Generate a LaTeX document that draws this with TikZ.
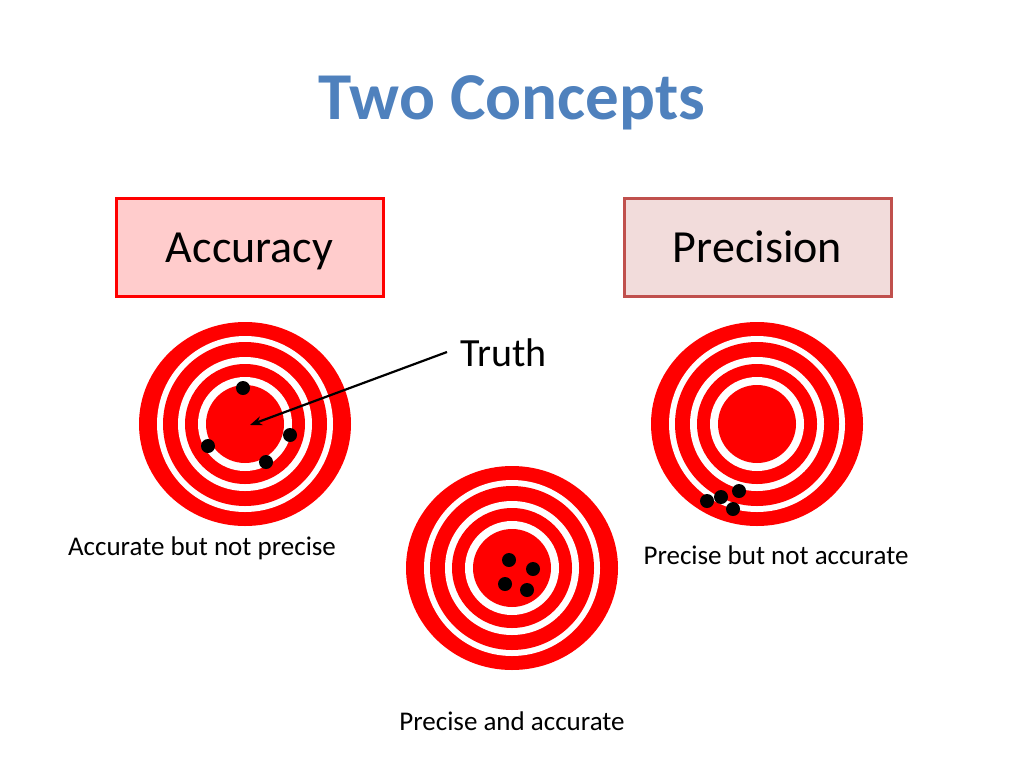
\documentclass[tikz,border=0pt]{standalone}
\usepackage{fontspec}
\usetikzlibrary{arrows.meta}
\setmainfont{Carlito}
\begin{document}
\begin{tikzpicture}[x=1pt,y=-1pt,
  dot/.style={circle,fill=black,inner sep=0pt,minimum size=14pt},
  lbl/.style={font=\fontsize{27}{30}\selectfont,inner sep=0pt},
  boxa/.style={draw=red,line width=3pt,fill=red!20,minimum width=267pt,minimum height=98pt},
  boxb/.style={draw={rgb,255:red,192;green,80;blue,77},line width=3pt,fill={rgb,255:red,242;green,220;blue,219},minimum width=267pt,minimum height=98pt},
  btxt/.style={anchor=base,inner sep=0pt,font=\fontsize{46}{50}\selectfont}]
\useasboundingbox (0,0) rectangle (1024,768);
\definecolor{tred}{RGB}{255,0,0}
\newcommand{\target}[2]{%
  \fill[tred] (#1,#2) ellipse [x radius=106, y radius=102];
  \fill[white] (#1,#2) circle (88);
  \fill[tred] (#1,#2) circle (82);
  \fill[white] (#1,#2) circle (67);
  \fill[tred] (#1,#2) circle (60);
  \fill[white] (#1,#2) circle (47);
  \fill[tred] (#1,#2) circle (39);}
\node[anchor=base,inner sep=0pt,font=\bfseries\fontsize{67}{70}\selectfont,text={rgb,255:red,79;green,129;blue,189}] (title) at (512,119) {Two Concepts};
\node[boxa] (acc) at (249.5,247) {};
\node[btxt] (acct) at (249.5,262) {Accuracy};
\node[boxb] (pre) at (757.5,247) {};
\node[btxt] (pret) at (757.5,262) {Precision};
\target{245}{424}
\target{757}{424}
\target{512}{568}
\node[dot] (a1) at (243,388) {};
\node[dot] (a2) at (208,446) {};
\node[dot] (a3) at (266,462) {};
\node[dot] (a4) at (290,435) {};
\node[dot] (b1) at (707,501) {};
\node[dot] (b2) at (721,497) {};
\node[dot] (b3) at (739,491) {};
\node[dot] (b4) at (733,509) {};
\node[dot] (c1) at (509,560) {};
\node[dot] (c2) at (533,569) {};
\node[dot] (c3) at (505,584) {};
\node[dot] (c4) at (527,590) {};
\coordinate (ctr) at (250,425);
\node[anchor=west,inner sep=0pt,font=\fontsize{40}{44}\selectfont] (truth) at (460,353) {Truth};
\coordinate (ts) at (447,352);
\draw[-{Stealth[length=12pt,width=9pt,open]},line width=2.2pt] (ts) -- (ctr);
\node[lbl] (l1) at (202,548) {Accurate but not precise};
\node[lbl] (l2) at (776,555) {Precise but not accurate};
\node[lbl] (l3) at (512,721) {Precise and accurate};
\end{tikzpicture}
\end{document}
